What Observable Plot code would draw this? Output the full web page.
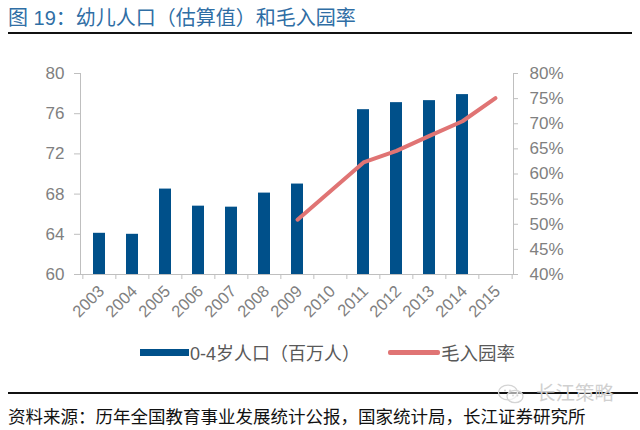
<!DOCTYPE html>
<html><head><meta charset="utf-8">
<script src="https://cdn.jsdelivr.net/npm/d3@7"></script>
<script src="https://cdn.jsdelivr.net/npm/@observablehq/plot@0.6"></script>
<style>
html,body{margin:0;padding:0;background:#fff;}
#wrap{position:relative;width:640px;height:430px;overflow:hidden;font-family:"Liberation Sans",Arial,"Noto Sans CJK SC",sans-serif;}
#wrap > svg{position:absolute;left:0;top:0;}
.t{position:absolute;white-space:nowrap;}
</style></head>
<body><div id="wrap">
<div class="t" style="left:8px;top:2px;font-size:20px;color:#2f6ea5;font-family:'Liberation Sans','Noto Sans CJK SC',sans-serif;">图 19：幼儿人口（估算值）和毛入园率</div>
<div style="position:absolute;left:8px;top:32px;width:624px;height:2px;background:#111;"></div>
<div style="position:absolute;left:140px;top:349px;width:49px;height:7px;background:#00508a;"></div>
<div class="t" style="left:190px;top:339px;font-size:18px;color:#595959;font-family:'Liberation Sans','Noto Sans CJK SC',sans-serif;">0-4岁人口（百万人）</div>
<div style="position:absolute;left:388px;top:350px;width:52px;height:5px;background:#e07474;border-radius:2px;"></div>
<div class="t" style="left:441px;top:339px;font-size:18.5px;color:#595959;font-family:'Noto Sans CJK SC',sans-serif;">毛入园率</div>
<div style="position:absolute;left:8px;top:392px;width:630px;height:2px;background:#111;"></div>
<svg style="position:absolute;left:497px;top:384px;" width="28" height="20" viewBox="0 0 28 20">
  <ellipse cx="11" cy="8.5" rx="9.5" ry="7.3" fill="none" stroke="#d4d4d4" stroke-width="1.3"/>
  <ellipse cx="18" cy="12.5" rx="8" ry="6.2" fill="#fff" fill-opacity="0.6" stroke="#d4d4d4" stroke-width="1.3"/>
  <circle cx="8" cy="6.5" r="1" fill="#d4d4d4"/><circle cx="13" cy="6.5" r="1" fill="#d4d4d4"/>
  <circle cx="16" cy="11.5" r="0.9" fill="#d4d4d4"/><circle cx="20.5" cy="11.5" r="0.9" fill="#d4d4d4"/>
</svg>
<div class="t" style="left:536px;top:382px;font-size:19.5px;line-height:1;color:#d0d0d0;font-family:'Noto Sans CJK SC',sans-serif;">长江策略</div>
<div class="t" style="left:8px;top:407px;font-size:17.5px;line-height:1;color:#111;font-family:'Noto Sans CJK SC',sans-serif;">资料来源：历年全国教育事业发展统计公报，国家统计局，长江证券研究所</div>
</div>
<script>
const years = ["2003","2004","2005","2006","2007","2008","2009","2010","2011","2012","2013","2014","2015"];
const population = [64.1, 64.0, 68.5, 66.8, 66.7, 68.1, 69.0, null, 76.4, 77.1, 77.3, 77.9, null];
const enrollment = [null, null, null, null, null, null, 50.9, null, 62.3, 64.6, 67.6, 70.5, 75.1];
const leftTicks = [60, 64, 68, 72, 76, 80];
const rightTicks = [40, 45, 50, 55, 60, 65, 70, 75, 80];

const popData = years.map((y, i) => ({year: y, value: population[i]})).filter(d => d.value != null);
const rateData = years.map((y, i) => ({year: y, value: enrollment[i]})).filter(d => d.value != null);
const toLeft = p => 60 + (p - 40) / 2;

const W = 640, ML = 80, MR = 127;
const step = (W - ML - MR) / years.length;
const grey = "#bfbfbf";

const chart = Plot.plot({
  width: W, height: 330,
  marginLeft: ML, marginRight: MR, marginTop: 73, marginBottom: 56,
  style: {fontFamily: "'Liberation Sans', Arial, sans-serif", fontSize: "16px", color: "#808080", background: "transparent", overflow: "visible"},
  x: {type: "band", domain: years, paddingInner: 0.64, paddingOuter: 0.32, label: null},
  y: {domain: [60, 80], label: null},
  marks: [
    Plot.barY(popData, {x: "year", y1: 60, y2: "value", fill: "#00508a"}),
    Plot.line(rateData, {x: "year", y: d => toLeft(d.value), stroke: "#e07474", strokeWidth: 4, strokeLinecap: "round", strokeLinejoin: "round"}),
    Plot.frame({anchor: "left", stroke: grey}),
    Plot.frame({anchor: "right", stroke: grey}),
    Plot.frame({anchor: "bottom", stroke: grey}),
    Plot.axisY({ticks: leftTicks, tickSize: 6, tickPadding: 10, stroke: grey, fontSize: 17, label: null}),
    Plot.axisY({anchor: "right", ticks: rightTicks.map(toLeft), tickFormat: d => `${Math.round((d - 60) * 2 + 40)}%`, tickSize: 4, tickPadding: 12, stroke: grey, fontSize: 17, label: null}),
    Plot.axisX({ticks: years, tickSize: 5, text: null, stroke: grey, dx: -step / 2, label: null}),
    Plot.axisX({ticks: ["2015"], tickSize: 5, text: null, stroke: grey, dx: step / 2, label: null}),
    Plot.axisX({ticks: years, tickSize: 0, tickRotate: -45, tickPadding: 14, fontSize: 16.5, dx: 2, label: null})
  ]
});
document.getElementById("wrap").prepend(chart);
</script>
</body></html>
